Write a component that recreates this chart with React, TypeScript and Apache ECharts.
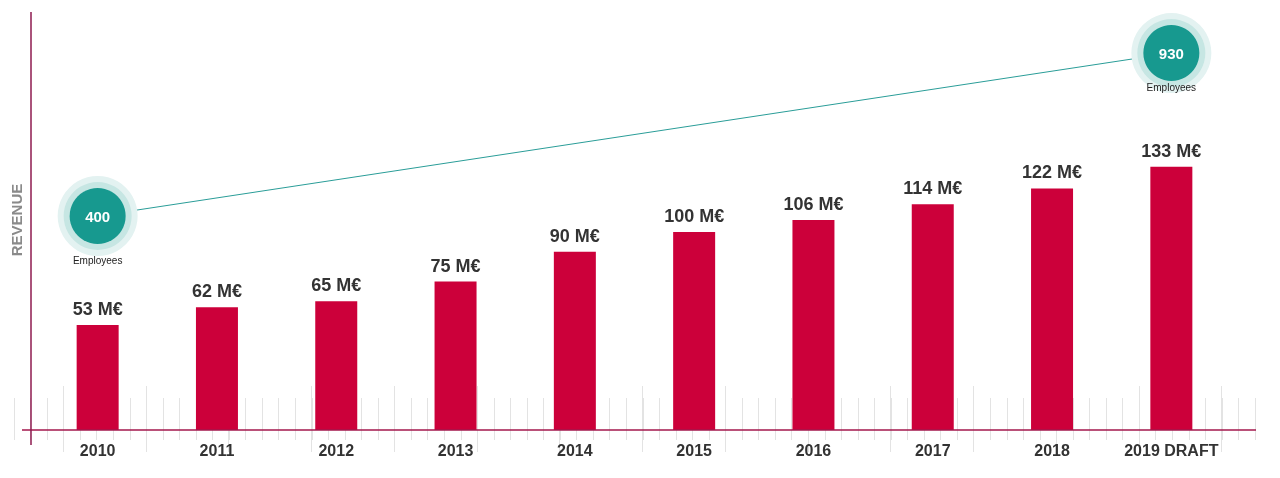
import React, { useEffect, useRef } from "react";
import * as echarts from "echarts";

const categories = ["2010", "2011", "2012", "2013", "2014", "2015", "2016", "2017", "2018", "2019 DRAFT"];
const revenue = [53, 62, 65, 75, 90, 100, 106, 114, 122, 133];
const employees: (number | string)[] = [400, "-", "-", "-", "-", "-", "-", "-", "-", 930];
const employeeLabelGap = [-1, 0, 0, 0, 0, 0, 0, 0, 0, -11];

const FONT = "'Liberation Sans', Arial, sans-serif";
const BAR = "#cc003a";
const TEAL = "#17998f";
const AXIS = "#a3174c";

export default function App() {
  const ref = useRef<HTMLDivElement>(null);
  useEffect(() => {
    if (!ref.current) return;
    const chart = echarts.init(ref.current, undefined, { renderer: "svg" });
    const captionData = employees.map((v, i) =>
      v === "-" ? "-" : { value: v, label: { distance: employeeLabelGap[i] } }
    );
    chart.setOption({
      animation: false,
      textStyle: { fontFamily: FONT },
      grid: [
        { left: 38, right: 49, top: 34, bottom: 48 },
        { left: 14, right: 25, top: 380, bottom: 38 },
        { left: 63, right: 58.5, top: 380, bottom: 26 },
      ],
      xAxis: [
        {
          type: "category",
          gridIndex: 0,
          data: categories,
          axisLine: { show: false },
          axisTick: { show: false },
          axisLabel: { interval: 0, fontSize: 16, fontWeight: "bold", color: "#333", margin: 12, fontFamily: FONT },
        },
        {
          type: "value",
          gridIndex: 1,
          min: 0,
          max: 75,
          interval: 1,
          axisLine: { show: false },
          axisLabel: { show: false },
          splitLine: { show: false },
          axisTick: { show: true, inside: true, length: 42, lineStyle: { color: "#e3e3e3", width: 1 } },
        },
        {
          type: "value",
          gridIndex: 2,
          min: 0,
          max: 14,
          interval: 1,
          axisLine: { show: false },
          axisLabel: { show: false },
          splitLine: { show: false },
          axisTick: { show: true, inside: true, length: 66, lineStyle: { color: "#e3e3e3", width: 1 } },
        },
      ],
      yAxis: [
        { type: "value", gridIndex: 0, min: 0, max: 200, show: false },
        { type: "value", gridIndex: 0, min: -296, max: 992, show: false },
        { type: "value", gridIndex: 1, min: 0, max: 1, show: false },
        { type: "value", gridIndex: 2, min: 0, max: 1, show: false },
      ],
      graphic: [
        { type: "line", shape: { x1: 22, y1: 430, x2: 1256, y2: 430 }, style: { stroke: AXIS, lineWidth: 1.5 }, z: 10 },
        { type: "line", shape: { x1: 31, y1: 12, x2: 31, y2: 445 }, style: { stroke: "#8e1a4f", lineWidth: 1.5 }, z: 10 },
        {
          type: "text",
          x: 16,
          y: 220,
          rotation: Math.PI / 2,
          style: {
            text: "REVENUE",
            fill: "#8a8a8a",
            font: `bold 15px ${FONT}`,
            align: "center",
            verticalAlign: "middle",
          },
        },
      ],
      series: [
        {
          type: "bar",
          xAxisIndex: 0,
          yAxisIndex: 0,
          data: revenue,
          barWidth: 42,
          itemStyle: { color: BAR },
          label: {
            show: true,
            position: "top",
            distance: 7,
            formatter: "{c} M€",
            fontSize: 18,
            fontWeight: "bold",
            color: "#333",
            fontFamily: FONT,
          },
          z: 3,
        },
        {
          type: "line",
          xAxisIndex: 0,
          yAxisIndex: 1,
          data: employees,
          connectNulls: true,
          showSymbol: false,
          symbol: "none",
          lineStyle: { color: "#2a9d98", width: 1 },
          z: 4,
        },
        {
          type: "scatter",
          xAxisIndex: 0,
          yAxisIndex: 1,
          data: employees,
          symbolSize: 80,
          itemStyle: { color: "#e3f2f1", opacity: 1 },
          z: 5,
        },
        {
          type: "scatter",
          xAxisIndex: 0,
          yAxisIndex: 1,
          data: employees,
          symbolSize: 68,
          itemStyle: { color: "#c6e6e3", opacity: 1 },
          z: 6,
        },
        {
          type: "scatter",
          xAxisIndex: 0,
          yAxisIndex: 1,
          data: employees,
          symbolSize: 56,
          itemStyle: { color: TEAL, opacity: 1 },
          label: {
            show: true,
            position: "inside",
            formatter: "{c}",
            fontSize: 15,
            fontWeight: "bold",
            color: "#fff",
            fontFamily: FONT,
          },
          z: 7,
        },
        {
          type: "scatter",
          xAxisIndex: 0,
          yAxisIndex: 1,
          data: captionData,
          symbolSize: 80,
          itemStyle: { color: "rgba(255,255,255,0)", opacity: 1 },
          label: {
            show: true,
            position: "bottom",
            distance: -1,
            formatter: "Employees",
            fontSize: 10,
            color: "#222",
            fontFamily: FONT,
          },
          z: 8,
        },
      ],
    });
    return () => chart.dispose();
  }, []);
  return <div ref={ref} style={{ position: "fixed", left: 0, top: 0, width: 1280, height: 478 }} />;
}
